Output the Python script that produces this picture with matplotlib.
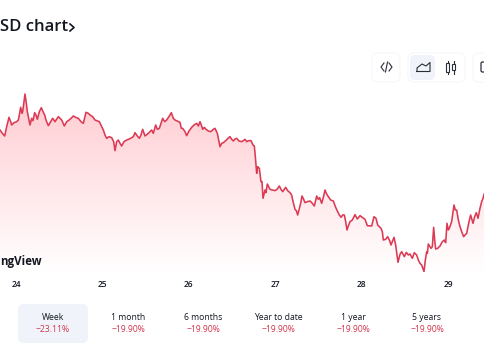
import numpy as np
import matplotlib
matplotlib.use('Agg')
import matplotlib.pyplot as plt
from matplotlib.colors import LinearSegmentedColormap
from matplotlib.patches import FancyBboxPatch, Rectangle

plt.rcParams['font.family'] = ['Open Sans', 'DejaVu Sans']

# x in samples since the "24" tick, y in price units
sample = [-48, -41, -34, -28, -21, -16, -13, -6, 2, 7, 10, 14, 18, 20, 24, 27, 31, 34, 39, 42,
          47, 51, 56, 60, 64, 70, 76, 81, 86, 90, 97, 104, 110, 117, 127, 137, 145, 152, 157, 165,
          172, 179, 187, 195, 202, 210, 217, 222, 230, 237, 250, 257, 262, 267, 272, 279, 287, 293, 297, 302,
          307, 312, 317, 324, 332, 342, 352, 357, 364, 370, 375, 380, 387, 397, 407, 412, 419, 424, 430, 435,
          440, 446, 452, 460, 466, 472, 477, 492, 496, 500, 507, 512, 519, 527, 534, 542, 547, 552, 556, 560,
          565, 570, 577, 584, 592, 597, 604, 608, 612, 617, 622, 629, 636, 642, 647, 652, 657, 662, 669, 677,
          682, 687, 692, 697, 705, 711, 715, 718, 722, 725, 730, 735, 738, 741, 747, 750, 754, 762, 770, 777,
          784, 790, 795, 800, 809, 815, 822, 827, 830, 837, 841, 845, 850, 854, 858, 863, 867, 874, 882, 889,
          895, 902, 907, 911, 917, 922, 927, 932, 937, 944, 952, 959, 965, 970, 975, 980, 985, 989, 993, 997,
          1002, 1009, 1017, 1024, 1032, 1039, 1047, 1054, 1067, 1074, 1080, 1085, 1095, 1099, 1102, 1109, 1115, 1121, 1125, 1134,
          1139, 1143, 1146, 1152, 1157, 1165, 1171, 1177, 1182, 1189, 1195, 1202, 1207, 1212, 1217, 1224, 1228, 1232, 1234, 1237,
          1245, 1249, 1253, 1257, 1259, 1265, 1272, 1279, 1285, 1289, 1293, 1297, 1300, 1307, 1314, 1318, 1322, 1327, 1332, 1337,
          1343, 1347, 1352, 1359, 1364, 1371, 1376, 1381, 1386, 1392, 1397, 1401, 1405, 1407]
price = [810, 800, 792, 820, 848, 835, 825, 832, 835, 840, 855, 878, 860, 865, 895, 918, 890, 865, 840, 825,
         845, 838, 862, 855, 842, 865, 877, 865, 855, 840, 823, 835, 845, 835, 850, 840, 822, 835, 838, 845,
         852, 848, 845, 835, 830, 863, 860, 855, 850, 840, 835, 820, 810, 795, 785, 790, 787, 775, 748, 775,
         780, 770, 762, 775, 780, 784, 790, 802, 792, 785, 795, 812, 792, 800, 810, 800, 825, 812, 815, 830,
         845, 835, 840, 852, 862, 845, 840, 833, 815, 815, 805, 793, 807, 818, 825, 830, 822, 835, 825, 812,
         818, 812, 807, 805, 812, 815, 800, 780, 760, 770, 772, 778, 785, 790, 782, 777, 783, 785, 777, 775,
         778, 782, 775, 778, 778, 765, 762, 730, 680, 700, 695, 655, 655, 605, 630, 622, 648, 632, 630, 628,
         633, 642, 632, 625, 638, 628, 622, 615, 600, 572, 568, 555, 575, 590, 612, 602, 592, 595, 597, 590,
         582, 612, 602, 607, 590, 608, 630, 618, 610, 600, 597, 578, 565, 555, 548, 555, 555, 535, 510, 522,
         535, 540, 556, 543, 553, 548, 542, 523, 522, 550, 545, 525, 515, 505, 480, 482, 490, 478, 465, 488,
         465, 435, 413, 437, 445, 430, 443, 435, 438, 425, 442, 435, 420, 410, 405, 385, 420, 445, 440, 468,
         455, 460, 518, 470, 453, 455, 462, 475, 480, 472, 530, 510, 515, 535, 585, 570, 570, 540, 520, 505,
         490, 495, 500, 535, 555, 530, 550, 562, 545, 575, 595, 605, 620, 618]

day_ticks = [0, 259, 518, 778, 1037, 1296]
day_labels = ['24', '25', '26', '27', '28', '29']

periods = ['Week', '1 month', '6 months', 'Year to date', '1 year', '5 years']
changes = ['−23.11%', '−19.90%', '−19.90%', '−19.90%', '−19.90%', '−19.90%']
period_x = [53, 128, 203, 278, 353, 427]

RED = '#dc3a54'
INK = '#131722'
PALE = '#f0f3fa'

fig = plt.figure(figsize=(4.85, 3.6), dpi=100, facecolor='white')
ax = fig.add_axes([0, 88 / 360, 1, 272 / 360])
ax.set_xlim(-48, 1407)
ax.set_ylim(384, 1200)

# pink fade under the line
cmap = LinearSegmentedColormap.from_list('fade', ['#ffffff', '#ffccd1'])
poly = ax.fill_between(sample, price, 384, color='none')
grad = np.linspace(0, 1, 256).reshape(-1, 1)
im = ax.imshow(grad, origin='lower', aspect='auto', cmap=cmap, vmin=0, vmax=1,
               extent=(-48, 1407, 384, 915), zorder=1)
im.set_clip_path(poly.get_paths()[0], transform=ax.transData)
ax.set_xlim(-48, 1407)
ax.set_ylim(384, 1200)
ax.plot(sample, price, color=RED, lw=1.15, zorder=2, solid_joinstyle='round')

for s in ax.spines.values():
    s.set_visible(False)
ax.set_yticks([])
ax.set_xticks(day_ticks)
ax.set_xticklabels(day_labels, fontsize=6, color=INK, fontweight=600)
ax.tick_params(axis='x', length=0, pad=5.5)

# page furniture, in pixel coordinates
ui = fig.add_axes([0, 0, 1, 1], zorder=5)
ui.set_xlim(0, 485)
ui.set_ylim(360, 0)
ui.axis('off')
ui.patch.set_alpha(0)

ui.text(0, 27, 'SD chart', ha='left', va='center', fontsize=12, fontweight=600, color=INK)
ui.plot([70, 74, 70], [24, 27.5, 31], color=INK, lw=1.2)
ui.text(0, 261, 'ngView', ha='left', va='center', fontsize=8.3, fontweight='bold', color=INK)

ui.add_patch(FancyBboxPatch((18, 304), 70, 39, boxstyle='round,pad=0,rounding_size=6', fc=PALE, ec='none'))
for x, p, c in zip(period_x, periods, changes):
    ui.text(x, 318, p, ha='center', va='center', fontsize=6.2, color=INK)
    ui.text(x, 330, c, ha='center', va='center', fontsize=6.2, color='#d0354c')

# toolbar buttons
for x0, w in [(372, 28), (408, 57), (473, 30)]:
    ui.add_patch(FancyBboxPatch((x0, 53), w, 29, boxstyle='round,pad=0,rounding_size=6',
                                fc='white', ec='#f6f7f9', lw=0.8))
ui.add_patch(FancyBboxPatch((410, 55), 25, 25, boxstyle='round,pad=0,rounding_size=5', fc=PALE, ec='none'))

ic = dict(color='#2a2e39', lw=0.8, solid_joinstyle='round')
ui.plot([384, 381, 384], [63, 67, 71], **ic)
ui.plot([389, 392, 389], [63, 67, 71], **ic)
ui.plot([385.5, 387.5], [72, 62], **ic)
ui.plot([417, 417, 422, 426, 430, 430, 417], [71.5, 68, 64, 66, 62.5, 71.5, 71.5], **ic)
for cx, top, bot, y0, h in [(448, 61, 74, 63, 9), (454, 61, 74, 64, 6)]:
    ui.plot([cx, cx], [top, bot], **ic)
    ui.add_patch(Rectangle((cx - 1.5, y0), 3, h, fc='white', ec='#2a2e39', lw=0.8, zorder=3))
ui.add_patch(FancyBboxPatch((481, 62), 8, 10, boxstyle='round,pad=0,rounding_size=1.5', fc='none', ec='#2a2e39', lw=0.9))

fig.savefig('out.png', dpi=100)
